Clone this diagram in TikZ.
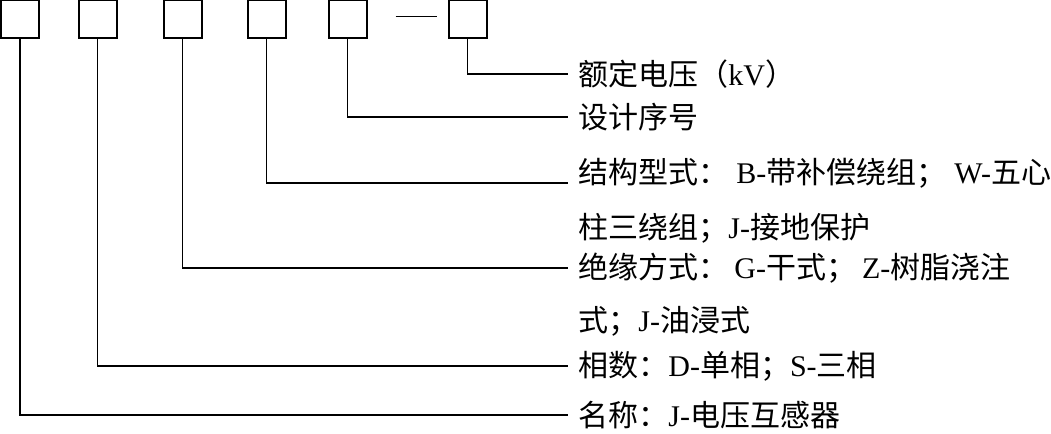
\documentclass[tikz,border=0pt]{standalone}
\usepackage{fontspec}
\setmainfont{Liberation Serif}
\newfontfamily\cjk{Noto Sans CJK SC}
\usepackage{tikz}
\usetikzlibrary{positioning}
\newcommand{\lat}[1]{{\rmfamily #1}}

\begin{document}
\begin{tikzpicture}[
  x=0.5pt,y=-0.5pt,
  codebox/.style={draw,line width=1pt,minimum size=19pt,inner sep=0pt},
  label/.style={anchor=west,inner xsep=5pt,inner ysep=0pt,font=\cjk\fontsize{15}{18}\selectfont},
  lead/.style={line width=0.75pt}
]
\useasboundingbox (0,0) rectangle (1051,434);
% code boxes
\node[codebox] (b1) at (20,18.5) {};
\node[codebox] (b2) at (97.5,18.5) {};
\node[codebox] (b3) at (182.5,18.5) {};
\node[codebox] (b4) at (266.5,18.5) {};
\node[codebox] (b5) at (347.5,18.5) {};
\node[codebox] (b6) at (467.5,18.5) {};
\draw[lead,shorten <=14pt,shorten >=5.5pt] ([yshift=1pt]b5.east) -- ([yshift=1pt]b6.west);
% meanings
\node[label] (t6) at (568,74) {额定电压（\lat{kV}）};
\node[label] (t5) at (568,117) {设计序号};
\node[label] (t4) at (568,173) {结构型式：\hspace{4pt}\lat{B-}带补偿绕组；\hspace{4pt}\lat{W-}五心};
\node[label] (t4b) at (568,228) {柱三绕组；\lat{J-}接地保护};
\node[label] (t3) at (568,268) {绝缘方式：\hspace{3pt}\lat{G-}干式；\hspace{3pt}\lat{Z-}树脂浇注};
\node[label] (t3b) at (568,321) {式；\lat{J-}油浸式};
\node[label] (t2) at (568,366) {相数：\lat{D-}单相；\lat{S-}三相};
\node[label] (t1) at (568,415) {名称：\lat{J-}电压互感器};
% leads
\draw[lead] (b6.south) |- (t6.west);
\draw[lead] (b5.south) |- (t5.west);
\draw[lead] (b4.south) |- (t4.base west);
\draw[lead] (b3.south) |- (t3.west);
\draw[lead] (b2.south) |- (t2.west);
\draw[lead] (b1.south) |- (t1.west);
\end{tikzpicture}
\end{document}
